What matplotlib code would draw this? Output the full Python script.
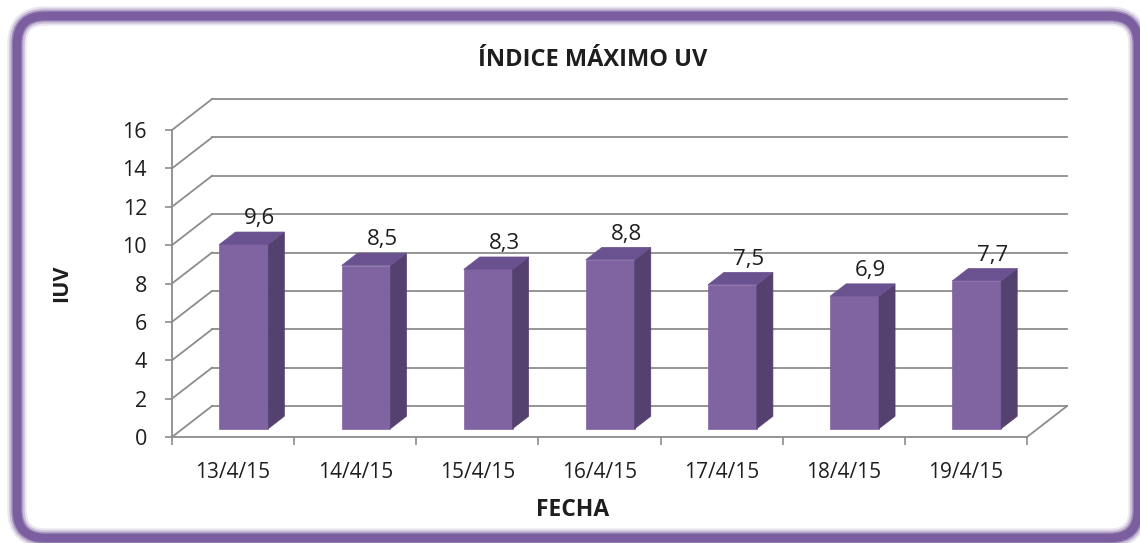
import matplotlib
matplotlib.use('Agg')
from matplotlib import pyplot as plt
from matplotlib.patches import Polygon, FancyBboxPatch

plt.rcParams['font.family'] = ['Open Sans', 'DejaVu Sans']

fechas = ['13/4/15', '14/4/15', '15/4/15', '16/4/15', '17/4/15', '18/4/15', '19/4/15']
iuv = [9.6, 8.5, 8.3, 8.8, 7.5, 6.9, 7.7]
y_ticks = [0, 2, 4, 6, 8, 10, 12, 14, 16]

# pseudo 3d geometry (data units of the front plane)
wall_dx, wall_dy = 0.328, 1.615     # depth of the chart box
bar_f, bar_depth = 0.27, 0.40       # bar position / depth as fraction of box depth
bar_w = 0.40
grid_col = '#8c8c8c'
txt_col = '#1e1e1e'
c_front, c_side, c_top = '#8064A2', '#54416F', '#6A5290'

fig = plt.figure(figsize=(11.4, 5.43), dpi=100)
ax = fig.add_axes([172 / 1140, 106 / 543, 855 / 1140, 307 / 543])
ax.set_xlim(0, len(fechas))
ax.set_ylim(0, 16)
ax.patch.set_visible(False)

# back wall, left wall and floor
for v in y_ticks:
    ax.plot([0, wall_dx], [v, v + wall_dy], color=grid_col, lw=1.3, clip_on=False, zorder=1)
    ax.plot([wall_dx, len(fechas) + wall_dx], [v + wall_dy, v + wall_dy],
            color=grid_col, lw=1.3, clip_on=False, zorder=1)
ax.plot([len(fechas), len(fechas) + wall_dx], [0, wall_dy], color=grid_col, lw=1.3,
        clip_on=False, zorder=1)

# bars
for i, v in enumerate(iuv):
    x0 = i + 0.5 - bar_w / 2 + bar_f * wall_dx
    y0 = bar_f * wall_dy
    x1 = x0 + bar_w
    sdx, sdy = bar_depth * wall_dx, bar_depth * wall_dy
    front = [(x0, y0), (x1, y0), (x1, y0 + v), (x0, y0 + v)]
    side = [(x1, y0), (x1 + sdx, y0 + sdy), (x1 + sdx, y0 + v + sdy), (x1, y0 + v)]
    top = [(x0, y0 + v), (x1, y0 + v), (x1 + sdx, y0 + v + sdy), (x0 + sdx, y0 + v + sdy)]
    for pts, c in [(front, c_front), (side, c_side), (top, c_top)]:
        ax.add_patch(Polygon(pts, closed=True, facecolor=c, edgecolor=c, lw=0.5,
                             clip_on=False, zorder=3))
    ax.annotate(str(v).replace('.', ','), xy=(x0 + bar_w / 2 + sdx, y0 + v + sdy),
                xytext=(0, 2), textcoords='offset points', ha='center', va='bottom',
                fontsize=16, color=txt_col, annotation_clip=False, zorder=4)

for s in ['top', 'right']:
    ax.spines[s].set_visible(False)
for s in ['left', 'bottom']:
    ax.spines[s].set_color(grid_col)
    ax.spines[s].set_linewidth(1.3)
ax.set_yticks(y_ticks)
ax.tick_params(axis='y', length=5, width=1.2, color=grid_col, pad=13, labelsize=15.5,
               labelcolor=txt_col)
ax.set_xticks(range(len(fechas) + 1))
ax.set_xticklabels([])
ax.tick_params(axis='x', which='major', length=6, width=1.2, color=grid_col)
ax.set_xticks([i + 0.5 for i in range(len(fechas))], minor=True)
ax.set_xticklabels(fechas, minor=True)
ax.tick_params(axis='x', which='minor', length=0, pad=18, labelsize=15, labelcolor=txt_col)

fig.text(593 / 1140, 1 - 60 / 543, 'ÍNDICE MÁXIMO UV', ha='center', va='center',
         fontsize=17, fontweight='bold', color=txt_col)
fig.text(62 / 1140, 1 - 283 / 543, 'IUV', ha='center', va='center', rotation=90,
         fontsize=15.5, fontweight='bold', color=txt_col)
fig.text(573 / 1140, 1 - 510 / 543, 'FECHA', ha='center', va='center',
         fontsize=16.5, fontweight='bold', color=txt_col)

# rounded purple frame
for lw, a in [(14, 0.15), (11, 0.3), (8, 0.6), (6, 1.0)]:
    fig.patches.append(FancyBboxPatch((0.17 + 0.28, 0.05 + 0.28), 11.21 - 0.56, 5.22 - 0.56,
                                      boxstyle='round,pad=0.28', transform=fig.dpi_scale_trans,
                                      facecolor='none', edgecolor='#7B5E9F', lw=lw, alpha=a,
                                      zorder=0))

fig.savefig('out.png', dpi=100)
